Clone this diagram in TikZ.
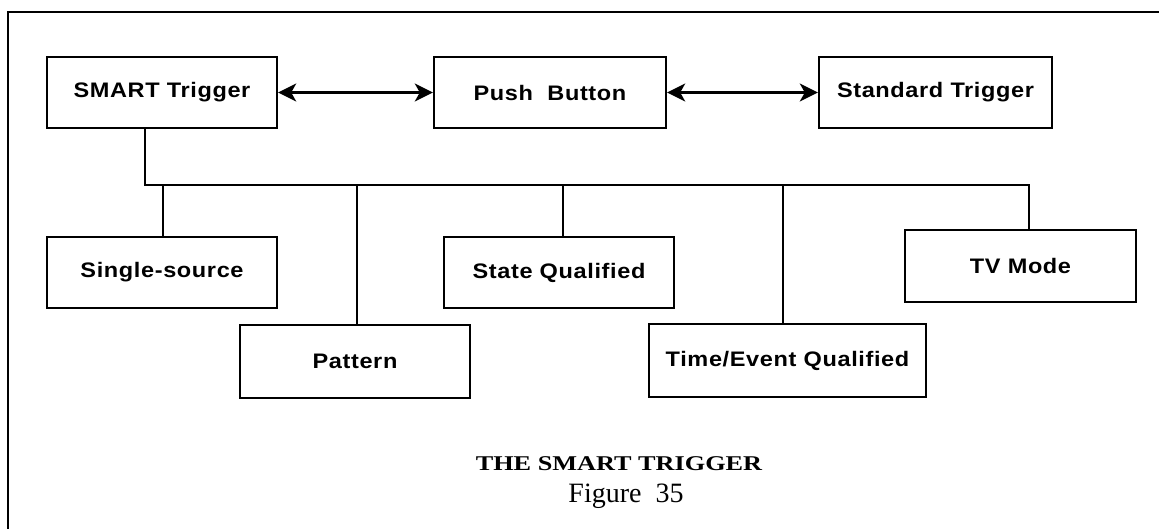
\documentclass[tikz,border=0pt]{standalone}
\usepackage{fontspec}
\usetikzlibrary{arrows.meta}
\newfontfamily\boxfont[FakeStretch=1.12,LetterSpace=3]{Liberation Sans}
\newfontfamily\capfont[FakeStretch=1.25]{Liberation Serif}
\newfontfamily\figfont{Liberation Serif}
\begin{document}
\begin{tikzpicture}[x=1pt,y=-1pt,
  blk/.style={draw, line width=2.4pt, inner sep=0pt, minimum height=71pt,
    font=\boxfont\bfseries\fontsize{21}{25}\selectfont},
  link/.style={line width=2.4pt},
  biarrow/.style={line width=2.4pt, {Stealth[length=18pt,width=18pt,inset=5pt]}-{Stealth[length=18pt,width=18pt,inset=5pt]}}
]
\useasboundingbox (0,0) rectangle (1159,528);
% frame (left and top sides visible)
\coordinate (fbl) at (8,530);
\coordinate (ftl) at (8,12);
\coordinate (ftr) at (1161,12);
\draw[line width=2pt] (fbl) -- (ftl) -- (ftr);

% top row
\node[blk, minimum width=230pt] (smart) at (162,92.5) {SMART Trigger};
\node[blk, minimum width=232pt] (push) at (550,92.5) {Push\ \ Button};
\node[blk, minimum width=233pt] (std) at (935.5,92.5) {Standard Trigger};
\draw[biarrow] (smart.east) -- (push.west);
\draw[biarrow] (push.east) -- (std.west);

% sub boxes
\node[blk, minimum width=230pt] (single) at (162,272.5) {Single-source};
\node[blk, minimum width=230pt, minimum height=73pt] (pattern) at (355,361.5) {Pattern};
\node[blk, minimum width=230pt] (state) at (559,272.5) {State Qualified};
\node[blk, minimum width=277pt, minimum height=73pt] (timeev) at (787.5,360.5) {Time/Event Qualified};
\node[blk, minimum width=231pt, minimum height=72pt] (tv) at (1020.5,266) {TV Mode};

% bus
\coordinate (busL) at (145,185);
\coordinate (dA) at (163,185);
\coordinate (dB) at (357,185);
\coordinate (dC) at (563,185);
\coordinate (dD) at (783,185);
\coordinate (busR) at (1029,185);
\draw[link] (busL |- smart.south) -- (busL) -- (busR) -- (busR |- tv.north);
\draw[link] (dA) -- (dA |- single.north);
\draw[link] (dB) -- (dB |- pattern.north);
\draw[link] (dC) -- (dC |- state.north);
\draw[link] (dD) -- (dD |- timeev.north);

% caption
\node[font=\capfont\bfseries\fontsize{21}{25}\selectfont, inner sep=0pt] (cap) at (619,464) {THE SMART TRIGGER};
\node[font=\figfont\fontsize{28}{32}\selectfont, inner sep=0pt, anchor=base] (fig) at (626,502) {Figure\ \ 35};
\end{tikzpicture}
\end{document}
